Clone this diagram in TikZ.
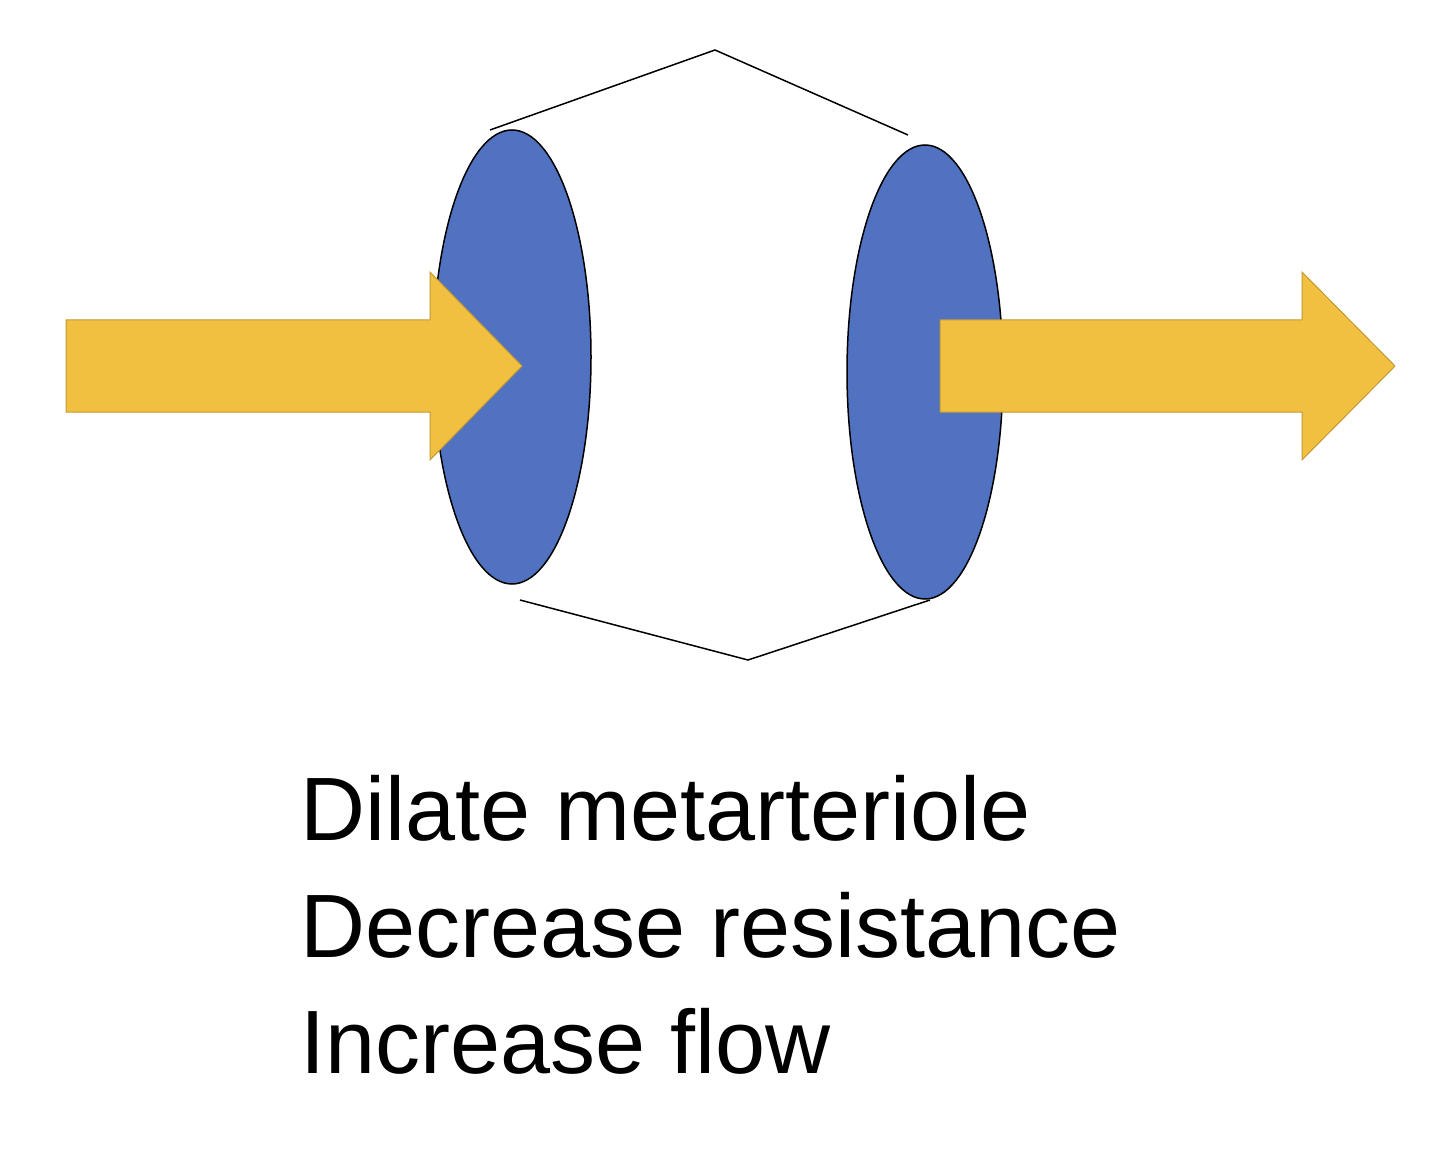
\documentclass[tikz,border=0pt]{standalone}
\usepackage{fontspec}
\setmainfont{Liberation Sans}
\definecolor{dblue}{HTML}{5072C0}
\definecolor{dyel}{HTML}{F2C040}
\begin{document}
\begin{tikzpicture}[x=1pt,y=-1pt,
  disc/.style={fill=dblue,draw=black,line width=1.5pt},
  bigarrow/.style={fill=dyel,draw=dyel!80!black,line width=1pt},
  outline/.style={draw=black,line width=1.5pt}]
\useasboundingbox (0,0) rectangle (1440,1155);
\draw[outline] (490,130) coordinate (t1) -- (715,50) coordinate (t2) -- (908,135) coordinate (t3);
\draw[outline] (520,600) coordinate (b1) -- (748,660) coordinate (b2) -- (930,600) coordinate (b3);
\path[disc] (512,357) ellipse [x radius=79, y radius=227];
\path[disc] (925,372) ellipse [x radius=78, y radius=227];
\path[bigarrow] (66,320) -- (430,320) -- (430,272) -- (522,366) -- (430,460) -- (430,412) -- (66,412) -- cycle;
\path[bigarrow] (940,320) -- (1302,320) -- (1302,272) -- (1395,366) -- (1302,460) -- (1302,412) -- (940,412) -- cycle;
\node[anchor=base west,inner sep=0pt] (l1) at (300,840) {\fontsize{90}{117}\selectfont Dilate metarteriole};
\node[anchor=base west,inner sep=0pt] (l2) at (300,957) {\fontsize{90}{117}\selectfont Decrease resistance};
\node[anchor=base west,inner sep=0pt] (l3) at (300,1073) {\fontsize{90}{117}\selectfont Increase flow};
\end{tikzpicture}
\end{document}
